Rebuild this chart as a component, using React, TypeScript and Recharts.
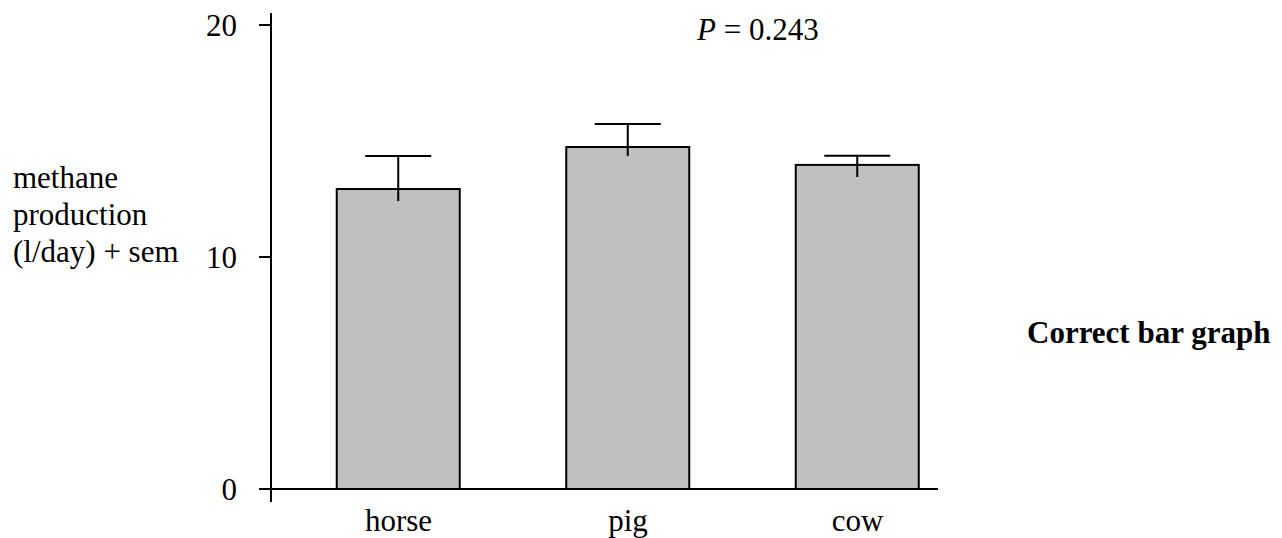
import { BarChart, Bar, XAxis, YAxis, ReferenceLine } from "recharts";

const animals = ["horse", "pig", "cow"];
const methane = [12.93, 14.74, 13.97];
const semUp = [1.42, 0.99, 0.39];
const semDown = [0.52, 0.39, 0.52];
const yTicks = [0, 10, 20];
const yLabelLines = ["methane", "production", "(l/day) + sem"];

const data = animals.map((name, i) => ({
  name,
  value: methane[i],
  up: semUp[i],
  down: semDown[i],
}));

const FONT = "'Liberation Serif', 'Times New Roman', serif";
const CAP = 66;

// bar rect plus a one-sided sem whisker (cap on top only), scaled from the bar itself
function BarWithSem(props: any) {
  const { x, y, width, height, payload } = props;
  const ppu = height / payload.value;
  const cx = x + width / 2;
  const top = y - payload.up * ppu;
  const bottom = y + payload.down * ppu;
  return (
    <g>
      <rect x={x} y={y} width={width} height={height} fill="#c0c0c0" stroke="#000" strokeWidth={2} />
      <line x1={cx} x2={cx} y1={top} y2={bottom} stroke="#000" strokeWidth={2} />
      <line x1={cx - CAP / 2} x2={cx + CAP / 2} y1={top} y2={top} stroke="#000" strokeWidth={2} />
    </g>
  );
}

export default function App() {
  return (
    <div style={{ position: "fixed", left: 0, top: 0, width: 1282, height: 538, background: "#fff" }}>
      <BarChart
        width={1282}
        height={538}
        data={data}
        margin={{ top: 13, right: 344, left: 0, bottom: 0 }}
        style={{ fontFamily: FONT }}
      >
        <XAxis
          dataKey="name"
          axisLine={false}
          tickLine={false}
          tickSize={0}
          tickMargin={7}
          height={36}
          padding={{ left: 12.75, right: -34.25 }}
          tick={{ fill: "#000", fontSize: 31, fontFamily: FONT }}
          interval={0}
        />
        <YAxis
          width={271}
          domain={[0, 20]}
          ticks={yTicks}
          tickSize={12}
          tickMargin={22}
          padding={{ top: 12, bottom: 13 }}
          axisLine={{ stroke: "#000", strokeWidth: 2 }}
          tickLine={{ stroke: "#000", strokeWidth: 2 }}
          tick={{ fill: "#000", fontSize: 31, fontFamily: FONT }}
        />
        <ReferenceLine y={0} stroke="#000" strokeWidth={2} />
        <Bar dataKey="value" barSize={123} shape={BarWithSem} isAnimationActive={false} />
        <text x={697} y={40} fontSize={31} fontFamily={FONT} fill="#000">
          <tspan fontStyle="italic">P</tspan> = 0.243
        </text>
        {yLabelLines.map((line, i) => (
          <text key={line} x={13} y={188 + i * 37} fontSize={31} fontFamily={FONT} fill="#000">
            {line}
          </text>
        ))}
        <text x={1027} y={343} fontSize={31} fontWeight="bold" fontFamily={FONT} fill="#000">
          Correct bar graph
        </text>
      </BarChart>
    </div>
  );
}
